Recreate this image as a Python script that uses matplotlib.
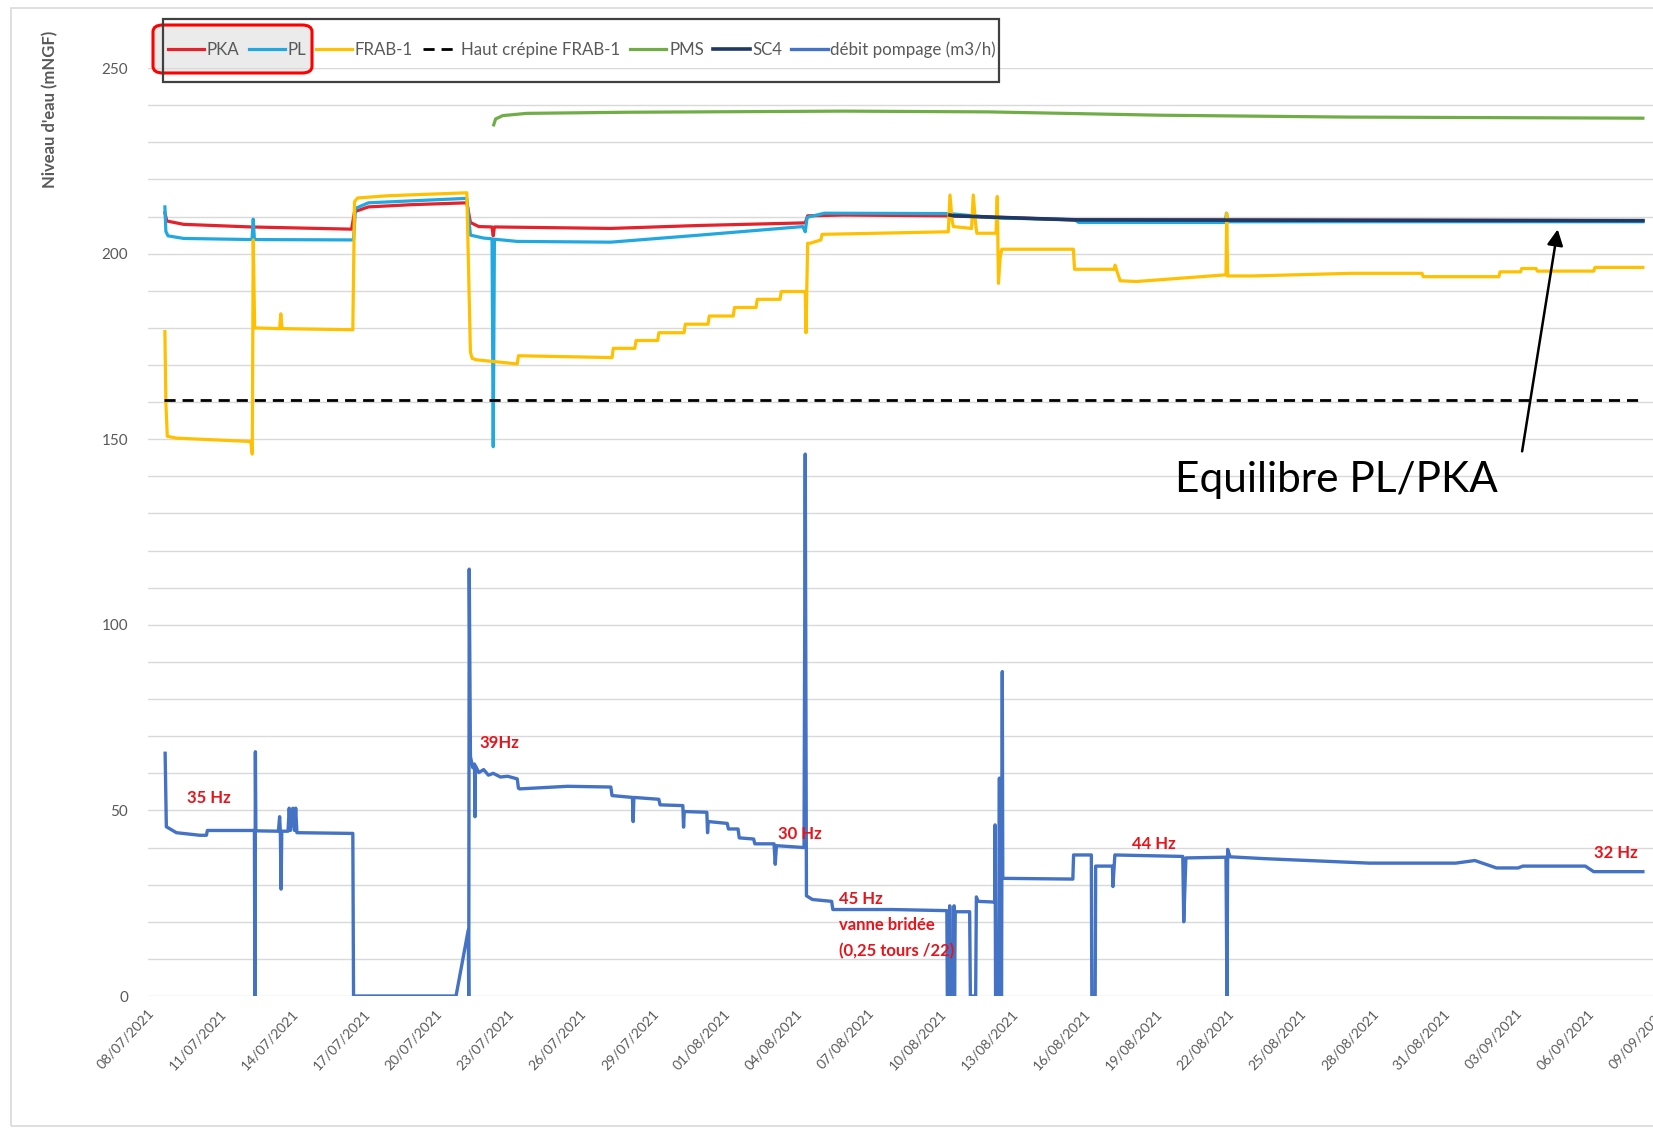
import matplotlib
matplotlib.use('Agg')
import matplotlib.pyplot as plt
import matplotlib.dates as mdates
from matplotlib.patches import FancyBboxPatch, Rectangle
import numpy as np
import pandas as pd

plt.rcParams['font.family'] = ['Lato', 'DejaVu Sans']

# temps en jours depuis le 08/07/2021 00h00
debut = pd.Timestamp('2021-07-08')

# niveaux (mNGF)
pka_t = [0.72, 0.80, 1.5, 4.3, 8.5, 8.62, 9.2, 11.0, 13.3, 13.45, 13.8, 14.35, 14.4, 14.45,
         19.3, 23.0, 27.4, 27.5, 29.0, 33.4, 35.4, 38.6, 62.3]
pka_v = [211.0, 208.8, 207.9, 207.2, 206.6, 211.3, 212.6, 213.2, 213.7, 208.4, 207.3, 207.2, 204.8, 207.2,
         206.8, 207.6, 208.3, 210.2, 210.4, 210.2, 209.8, 209.1, 208.9]

pl_t = [0.72, 0.76, 0.85, 1.5, 4.35, 4.4, 4.45, 8.58, 8.66, 9.2, 13.3, 13.45, 14.0, 14.35, 14.4, 14.45,
        15.4, 19.3, 23.0, 27.3, 27.4, 27.48, 28.2, 33.4, 35.4, 38.6, 38.8, 44.9, 44.95, 45.0, 50.0, 62.3]
pl_v = [212.6, 206.0, 204.8, 204.1, 203.8, 209.3, 203.8, 203.7, 212.2, 213.7, 214.9, 205.0, 204.2, 204.0, 148.0, 203.9,
        203.3, 203.1, 205.0, 207.3, 205.9, 209.8, 210.9, 210.8, 209.6, 209.2, 208.4, 208.4, 210.9, 208.6, 208.6, 208.6]

frab_t = [0.72, 0.76, 0.82, 1.2, 4.3, 4.36, 4.4, 4.46, 5.5, 5.55, 5.6, 5.65, 8.55, 8.62, 8.75, 10.0, 13.3,
          13.45, 13.52, 13.7, 15.4, 15.45, 19.35, 19.4, 20.3, 20.35, 21.25, 21.3, 22.35, 22.4, 23.35, 23.4,
          24.4, 24.45, 25.35, 25.4, 26.35, 26.4, 27.4, 27.43, 27.5, 27.6, 28.05, 28.1, 33.36, 33.43, 33.52,
          33.57, 34.33, 34.4, 34.5, 34.55, 35.35, 35.4, 35.45, 35.52, 35.59, 38.57, 38.62, 40.28, 40.31,
          40.4, 40.52, 41.2, 44.93, 44.96, 45.0, 46.06, 50.1, 53.1, 53.15, 56.3, 56.35, 57.2, 57.25, 57.85,
          57.9, 60.25, 60.3, 62.3]
frab_v = [179.0, 160.0, 150.8, 150.3, 149.4, 146.0, 203.7, 180.0, 179.8, 183.8, 179.8, 179.8, 179.5, 214.0,
          215.0, 215.6, 216.4, 173.5, 171.8, 171.4, 170.3, 172.5, 172.0, 174.5, 174.5, 176.6, 176.6, 178.7,
          178.7, 181.0, 181.0, 183.2, 183.2, 185.5, 185.5, 187.7, 187.7, 189.8, 189.8, 178.7, 202.8, 202.8,
          203.7, 205.2, 205.9, 215.8, 209.0, 207.3, 206.8, 215.8, 208.0, 205.5, 205.5, 215.4, 192.0, 199.0,
          201.2, 201.2, 195.8, 195.8, 196.9, 195.0, 192.7, 192.5, 194.3, 210.9, 194.0, 194.0, 194.7, 194.7,
          193.8, 193.8, 195.1, 195.1, 196.0, 196.0, 195.3, 195.3, 196.3, 196.3]

crepine_t = [0.7, 62.3]
crepine_v = [160.6, 160.6]

pms_t = [14.42, 14.5, 14.8, 15.8, 20.0, 29.0, 35.0, 42.2, 50.0, 62.3]
pms_v = [234.7, 236.3, 237.2, 237.8, 238.1, 238.4, 238.2, 237.3, 236.8, 236.5]

sc4_t = [33.43, 33.6, 35.4, 38.6, 62.3]
sc4_v = [210.4, 210.2, 209.8, 209.1, 208.9]

# débit pompage (m3/h)
debit_t = [0.73, 0.78, 1.2, 2.18, 2.45, 2.49, 4.45, 4.47, 4.49, 4.51, 5.45, 5.50, 5.53, 5.56, 5.59, 5.85,
           5.9, 5.95, 6.05, 6.12, 6.17, 6.22, 8.55, 8.58, 12.85, 13.36, 13.38, 13.40, 13.45, 13.55, 13.62,
           13.64, 13.66, 13.8, 14.0, 14.2, 14.4, 14.7, 15.0, 15.4, 15.45, 15.5, 17.5, 19.3, 19.35, 20.2,
           20.23, 20.26, 21.3, 21.35, 22.3, 22.33, 22.36, 23.3, 23.33, 23.36, 24.15, 24.2, 24.6, 24.65,
           25.25, 25.3, 26.1, 26.15, 26.2, 27.35, 27.4, 27.45, 27.7, 28.5, 28.55, 31.0, 33.3, 33.32, 33.4,
           33.42, 33.46, 33.58, 33.6, 33.62, 33.65, 34.25, 34.28, 34.5, 34.53, 34.6, 35.3, 35.31, 35.33,
           35.45, 35.49, 35.52, 35.58, 35.61, 35.63, 38.55, 38.58, 39.32, 39.34, 39.48, 39.5, 40.2, 40.22,
           40.3, 43.13, 43.17, 43.26, 44.93, 44.97, 45.0, 45.1, 46.55, 50.9, 54.5, 55.3, 56.2, 57.1, 57.3,
           59.9, 60.25, 62.3]
debit_v = [65.4, 45.6, 44.0, 43.3, 43.3, 44.6, 44.6, 0.0, 65.8, 44.5, 44.4, 48.3, 44.4, 28.8, 44.4, 44.4,
           50.6, 44.6, 50.6, 44.6, 50.6, 44.0, 43.8, 0.0, 0.0, 17.8, 0.0, 115.0, 64.5, 61.5, 62.5,
           48.3, 62.0, 60.2, 61.0, 59.5, 60.0, 59.0, 59.2, 58.5, 56.0, 55.8, 56.5, 56.3, 54.0, 53.5,
           47.0, 53.5, 53.0, 51.5, 51.3, 45.5, 49.7, 49.5, 44.0, 47.0, 46.5, 45.0, 45.0, 42.6,
           42.3, 41.0, 41.0, 35.5, 40.5, 40.0, 146.0, 27.0, 26.0, 25.5, 23.3, 23.3, 23.0, 0.0, 0.0,
           24.3, 0.0, 0.0, 24.3, 0.0, 22.7, 22.7, 0.0, 0.0, 26.7, 25.5, 25.3, 46.1, 0.0,
           0.0, 58.7, 0.0, 0.0, 87.4, 31.7, 31.5, 38.0, 38.0, 0.0, 0.0, 35.0, 35.0, 29.5,
           38.0, 37.6, 20.0, 37.2, 37.4, 0.0, 39.5, 37.5, 37.0, 35.8, 35.8, 36.5, 34.5, 34.5, 35.0,
           35.0, 33.5, 33.5]

tick_dates = pd.date_range('2021-07-08', '2021-09-09', freq='3D')

# annotations (jour, valeur, texte)
notes_t = [2.57, 14.67, 27.18, 41.94, 61.18]
notes_v = [53.3, 68.2, 43.7, 40.9, 38.4]
notes_txt = ['35 Hz', '39Hz', '30 Hz', '44 Hz', '32 Hz']

t0 = mdates.date2num(debut)


def x(t):
    return t0 + np.array(t)


fig = plt.figure(figsize=(16.53, 11.29), dpi=100)
ax = fig.add_axes([0.0893, 0.1178, 0.9220, 0.8219])

lw = 2.3
ax.plot(x(pka_t), pka_v, color='#E3222B', lw=lw, label='PKA')
ax.plot(x(pl_t), pl_v, color='#22A8E0', lw=lw, label='PL')
ax.plot(x(frab_t), frab_v, color='#FFC000', lw=lw, label='FRAB-1')
ax.plot(x(crepine_t), crepine_v, color='black', lw=2, ls=(0, (4, 2.5)), label='Haut crépine FRAB-1')
ax.plot(x(pms_t), pms_v, color='#70AD47', lw=lw, label='PMS')
ax.plot(x(sc4_t), sc4_v, color='#1F3864', lw=2.6, label='SC4')
ax.plot(x(debit_t), debit_v, color='#4472C4', lw=2.4, label='débit pompage (m3/h)')

ax.set_xlim(t0, t0 + 63.5)
ax.set_ylim(0, 250)
ax.set_yticks(range(0, 251, 50))
ax.set_yticks(range(0, 251, 10), minor=True)
ax.yaxis.grid(True, which='both', color='#d9d9d9', lw=1)
ax.set_axisbelow(True)
ax.xaxis.set_major_locator(matplotlib.ticker.FixedLocator(mdates.date2num(tick_dates)))
ax.xaxis.set_major_formatter(mdates.DateFormatter('%d/%m/%Y'))
ax.tick_params(which='both', length=0, colors='#595959')
ax.tick_params(axis='y', labelsize=11, pad=14)
ax.tick_params(axis='x', labelsize=10, pad=8)
plt.setp(ax.get_xticklabels(), rotation=47, ha='right', va='top', rotation_mode='anchor')
for s in ax.spines.values():
    s.set_visible(False)

for t, v, txt in zip(notes_t, notes_v, notes_txt):
    ax.text(x(t), v, txt, color='#E8141B', fontsize=12, fontweight='bold', ha='center', va='center')
ax.text(x(28.8), 19.0, '45 Hz\nvanne bridée\n(0,25 tours /22)', color='#E8141B', fontsize=12,
        fontweight='bold', ha='left', va='center', linespacing=1.75)

ax.text(x(42.8), 139.0, 'Equilibre PL/PKA', fontsize=30.5, ha='left', va='center', color='black')
ax.annotate('', xy=(x(58.77), 207.3), xytext=(x(57.25), 146.0),
            arrowprops=dict(arrowstyle='-|>', lw=1.8, color='black', mutation_scale=24))

fig.text(0.0306, 0.903, "Niveau d'eau (mNGF)", rotation=90, ha='center', va='center',
         fontsize=12, fontweight='bold', color='#595959')

# légende sur une ligne, cadre dessiné à part
leg = ax.legend(loc='center left', bbox_to_anchor=(168 / 1653, 1 - 50 / 1129), bbox_transform=fig.transFigure,
                ncol=7, fontsize=12.2, handlelength=2.15, handletextpad=0.15, columnspacing=0.55,
                borderpad=0, borderaxespad=0, labelcolor='#595959', frameon=False)
leg.set_zorder(6)

fig.add_artist(Rectangle((163 / 1653, 1 - 82 / 1129), 836 / 1653, 63 / 1129, transform=fig.transFigure,
                         fill=False, edgecolor='#404040', lw=1.6, zorder=6))

box = FancyBboxPatch((153 / 1653, 1 - 73 / 1129), 159 / 1653, 48 / 1129,
                     boxstyle='round,pad=0,rounding_size=0.006', transform=fig.transFigure,
                     edgecolor='#FF0000', lw=2.2, zorder=4, clip_on=False)
box.set_facecolor((0.86, 0.86, 0.86, 0.55))
ax.add_patch(box)

fig.add_artist(Rectangle((0.0064, 0.0027), 1.2, 0.9899, transform=fig.transFigure, fill=False,
                         edgecolor='#d9d9d9', lw=1.2))

fig.savefig('out.png', dpi=100)
